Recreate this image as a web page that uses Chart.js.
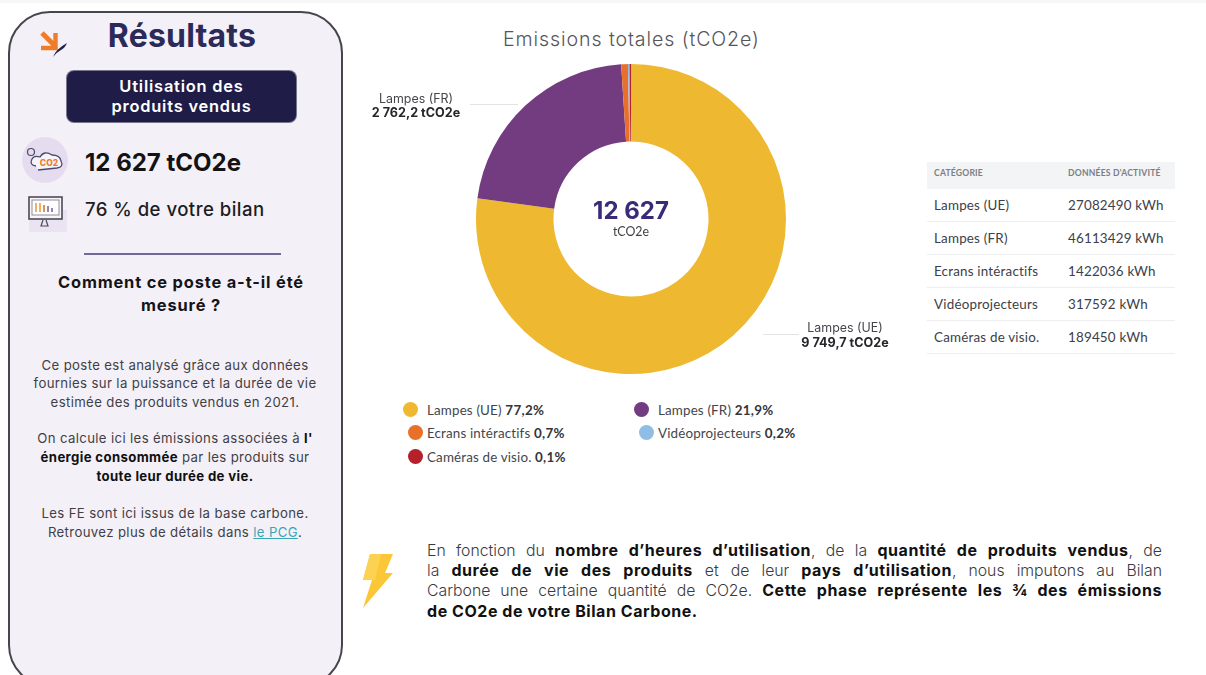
<!DOCTYPE html>
<html lang="fr">
<head>
<meta charset="utf-8">
<title>Résultats - Emissions totales</title>
<script src="https://cdn.jsdelivr.net/npm/chart.js@4/dist/chart.umd.min.js"></script>
<style>
    html, body { margin: 0; padding: 0; background: #fff; overflow: hidden; }
    #page { position: relative; width: 1206px; height: 675px; overflow: hidden; font-family: Inter, sans-serif; color: #1b1b1f; }
    #topband { position: absolute; left: 0; top: 0; width: 1206px; height: 3px; background: #f7f7f7; }
    #card { position: absolute; left: 8px; top: 11px; width: 331px; height: 672px; background: #f4f0f8; border: 2px solid #47454c; border-radius: 42px; }
    .t { position: absolute; white-space: nowrap; }
    .c { text-align: center; }
    #chartBox { position: absolute; left: 351px; top: 54px; width: 560px; height: 330px; }
    #badge { position: absolute; left: 67px; top: 71px; width: 229px; height: 51px; background: #1f1d47; border-radius: 7px; box-shadow: 0 0 0 1px #77758c; }
    .small { font-size: 13.2px; color: #3f3f45; letter-spacing: 0.36px; }
    .small b { color: #111; font-weight: 700; }
    .para { position: absolute; left: 427px; width: 735px; font-size: 15.8px; color: #3a3a3e; font-weight: 300; text-align: justify; text-align-last: justify; white-space: nowrap; }
    .para b { color: #111; font-weight: 700; letter-spacing: 0.55px; font-size: 16px; }
    .row { position: absolute; left: 927px; width: 248px; height: 1px; background: #eeeef0; }
    .cell { position: absolute; font-family: Lato, sans-serif; font-size: 13.4px; color: #3d4048; white-space: nowrap; letter-spacing: 0.2px; }
    .dot { position: absolute; width: 15px; height: 15px; border-radius: 50%; }
    .leg { position: absolute; font-family: Lato, sans-serif; font-size: 13.4px; color: #44464c; white-space: nowrap; letter-spacing: 0.15px; }
    .leg b { color: #33353a; font-weight: 700; letter-spacing: 0.3px; }
</style>
</head>
<body>
<div id="page">
    <div id="topband"></div>
    <div id="card"></div>

    <!-- logo -->
    <svg class="t" style="left:38px;top:28px" width="32" height="32" viewBox="0 0 32 32">
        <path d="M4 5 L17 18" stroke="#ee7d2b" stroke-width="5" fill="none"/>
        <path d="M17.5 5 V20 H3" stroke="#ee7d2b" stroke-width="4.4" fill="none"/>
        <path d="M15 29 Q18 21 29 15 Q27 20 23 22 Q19 24 15 29 Z" fill="#23214a"/>
    </svg>
    <div class="t c" style="left:82px;top:16px;width:200px;font-size:32px;font-weight:700;color:#2b2a58;letter-spacing:0.2px">Résultats</div>

    <div id="badge"></div>
    <div class="t c" style="left:67px;top:76px;width:229px;font-size:16.4px;font-weight:600;color:#fff;line-height:20px;letter-spacing:0.8px">Utilisation des<br>produits vendus</div>

    <!-- icone co2 -->
    <svg class="t" style="left:22px;top:137px" width="48" height="48" viewBox="0 0 48 48">
        <circle cx="23" cy="23" r="23" fill="#e6dcef"/>
        <path d="M14 29 Q7 28 10 22 Q12 18 18 20 Q22 13 30 18 Q38 18 39 24 Q42 30 35 31 L16 33" fill="#f7f3fa" stroke="#4b4a6a" stroke-width="1.3"/>
        <circle cx="9" cy="15" r="3.5" fill="none" stroke="#4b4a6a" stroke-width="1.2"/>
        <text x="27" y="29" font-size="8.5" font-weight="800" text-anchor="middle" fill="#ee7d2b" font-family="Inter, sans-serif">CO2</text>
    </svg>
    <div class="t" style="left:85px;top:148px;font-size:24px;font-weight:700;color:#131316">12 627 tCO2e</div>

    <!-- icone ecran -->
    <svg class="t" style="left:26px;top:194px" width="44" height="38" viewBox="0 0 44 38">
        <rect x="3" y="16" width="38" height="22" fill="#eae3f1"/>
        <rect x="3" y="3" width="33" height="22" fill="#f7f4fa" stroke="#4c4b55" stroke-width="1.6"/>
        <rect x="6" y="6" width="27" height="15" fill="#fff" stroke="#8f8e98" stroke-width="1"/>
        <path d="M10 9 V18 M14 9 V18" stroke="#e9a13c" stroke-width="1.6"/>
        <path d="M18 11 V18" stroke="#e27130" stroke-width="1.6"/>
        <path d="M22 12 V18 M26 14 V18" stroke="#7a6aa5" stroke-width="1.6"/>
        <path d="M17 26 L15 32 H22 L20 26" fill="none" stroke="#4c4b55" stroke-width="1.2"/>
    </svg>
    <div class="t" style="left:85px;top:198px;font-size:18.6px;font-weight:500;color:#1d1d22;letter-spacing:0.45px">76 % de votre bilan</div>

    <div class="t" style="left:84px;top:253px;width:197px;height:2px;background:#6f6a96"></div>
    <div class="t c" style="left:28px;top:271px;width:306px;font-size:16.4px;font-weight:700;line-height:22.5px;color:#141417;letter-spacing:0.85px">Comment ce poste a-t-il été<br>mesuré ?</div>

    <div class="t c small" style="left:22px;top:356px;width:306px;line-height:18.4px">Ce poste est analysé grâce aux données<br>fournies sur la puissance et la durée de vie<br>estimée des produits vendus en 2021.</div>
    <div class="t c small" style="left:22px;top:429px;width:306px;line-height:18.8px">On calcule ici les émissions associées à <b>l'</b><br><b>énergie consommée</b> par les produits sur<br><b>toute leur durée de vie.</b></div>
    <div class="t c small" style="left:22px;top:504px;width:306px;line-height:18.6px">Les FE sont ici issus de la base carbone.<br>Retrouvez plus de détails dans <span style="color:#3aa6b4;text-decoration:underline">le PCG</span>.</div>

    <div class="t" style="left:503px;top:27px;font-size:19.6px;font-weight:300;color:#55555a;letter-spacing:0.9px">Emissions totales (tCO2e)</div>

    <div id="chartBox"><canvas id="donut" width="560" height="330"></canvas></div>

    <div id="tableBox"></div>
    <div id="legendBox"></div>

    <!-- eclair -->
    <svg class="t" style="left:361px;top:553px" width="34" height="56" viewBox="0 0 34 56">
        <path d="M9 1 H32 L24 20 H32 L2 55 L11 27 H2 Z" fill="#fbc737"/>
        <path d="M9 1 H20 L14 27 H2 Z" fill="#fcd253"/>
    </svg>

    <div class="para" style="top:540px">En fonction du <b>nombre d’heures d’utilisation</b>, de la <b>quantité de produits vendus</b>, de</div>
    <div class="para" style="top:560px">la <b>durée de vie des produits</b> et de leur <b>pays d’utilisation</b>, nous imputons au Bilan</div>
    <div class="para" style="top:580px">Carbone une certaine quantité de CO2e. <b>Cette phase représente les ¾ des émissions</b></div>
    <div class="para" style="top:601px;text-align-last:left"><b>de CO2e de votre Bilan Carbone.</b></div>
</div>

<script>
// Donnees du graphique
const categories = ['Lampes (UE)', 'Lampes (FR)', 'Ecrans intéractifs', 'Vidéoprojecteurs', 'Caméras de visio.'];
const emissions = [9749.7, 2762.2, 88, 22, 18];
const percentLabels = ['77,2%', '21,9%', '0,7%', '0,2%', '0,1%'];
const activityLabels = ['27082490 kWh', '46113429 kWh', '1422036 kWh', '317592 kWh', '189450 kWh'];
const tableHeaders = ['CATÉGORIE', 'DONNÉES D\'ACTIVITÉ'];
const colors = ['#eeb931', '#733c80', '#e8702a', '#8fbde6', '#b5202c'];
const totalLabel = '12 627';
const unitLabel = 'tCO2e';
const calloutLabels = ['9 749,7 tCO2e', '2 762,2 tCO2e'];

// Legende en HTML, meme ordre que le graphique
const legendSpots = [[403, 402], [634, 402], [408, 425], [639, 425], [408, 449]];
const legendTextX = [427, 658, 427, 658, 427];
const legendBox = document.getElementById('legendBox');
categories.forEach(function(name, i) {
    const dot = document.createElement('div');
    dot.className = 'dot';
    dot.style.left = legendSpots[i][0] + 'px';
    dot.style.top = legendSpots[i][1] + 'px';
    dot.style.background = colors[i];
    legendBox.appendChild(dot);
    const text = document.createElement('div');
    text.className = 'leg';
    text.style.left = legendTextX[i] + 'px';
    text.style.top = (legendSpots[i][1] - 0.5) + 'px';
    text.innerHTML = name + ' <b>' + percentLabels[i] + '</b>';
    legendBox.appendChild(text);
});

// Tableau des donnees d'activite
const tableBox = document.getElementById('tableBox');
tableBox.innerHTML = '<div style="position:absolute;left:927px;top:162px;width:248px;height:27px;background:#f3f4f5"></div>'
    + '<div class="cell" style="left:934px;top:168px;font-size:8.6px;color:#7c7e86;font-weight:700">' + tableHeaders[0] + '</div>'
    + '<div class="cell" style="left:1068px;top:168px;font-size:8.6px;color:#7c7e86;font-weight:700">' + tableHeaders[1] + '</div>';
categories.forEach(function(name, i) {
    const y = 197 + i * 33;
    tableBox.innerHTML += '<div class="cell" style="left:934px;top:' + y + 'px">' + name + '</div>'
        + '<div class="cell" style="left:1068px;top:' + y + 'px">' + activityLabels[i] + '</div>'
        + '<div class="row" style="top:' + (221 + i * 33) + 'px"></div>';
});

// Texte central et renvois des deux grandes parts
const donutExtras = {
    id: 'donutExtras',
    afterDraw: function(chart) {
        const c = chart.ctx;
        const arcs = chart.getDatasetMeta(0).data;
        const cx = arcs[0].x;
        const cy = arcs[0].y;
        c.save();
        c.textAlign = 'center';
        c.textBaseline = 'middle';
        c.fillStyle = '#3b2a78';
        c.font = '700 24px Inter, sans-serif';
        c.fillText(totalLabel, cx, cy - 7);
        c.fillStyle = '#3f3f45';
        c.font = '400 12.4px Lato, sans-serif';
        c.fillText(unitLabel, cx, cy + 13);

        // renvoi Lampes (UE)
        c.strokeStyle = '#e4e4e6';
        c.beginPath();
        c.moveTo(cx + 132, cy + 115.5);
        c.lineTo(cx + 168, cy + 115.5);
        c.stroke();
        // renvoi Lampes (FR)
        c.beginPath();
        c.moveTo(cx - 161, cy - 114.5);
        c.lineTo(cx - 113, cy - 114.5);
        c.stroke();

        c.fillStyle = '#44464c';
        c.font = '400 12.4px Inter, sans-serif';
        c.fillText(categories[0], cx + 214, cy + 109);
        c.fillText(categories[1], cx - 215, cy - 120);
        c.fillStyle = '#26272b';
        c.font = '700 12.6px Inter, sans-serif';
        c.fillText(calloutLabels[0], cx + 214, cy + 124);
        c.fillText(calloutLabels[1], cx - 215, cy - 106);
        c.restore();
    }
};

const ctx = document.getElementById('donut').getContext('2d');
new Chart(ctx, {
    type: 'doughnut',
    data: {
        labels: categories,
        datasets: [{
            data: emissions,
            backgroundColor: colors,
            borderWidth: 0
        }]
    },
    options: {
        responsive: false,
        animation: false,
        cutout: '50%',
        layout: { padding: 10 },
        plugins: {
            legend: { display: false },
            tooltip: { enabled: false }
        }
    },
    plugins: [donutExtras]
});
</script>
</body>
</html>
